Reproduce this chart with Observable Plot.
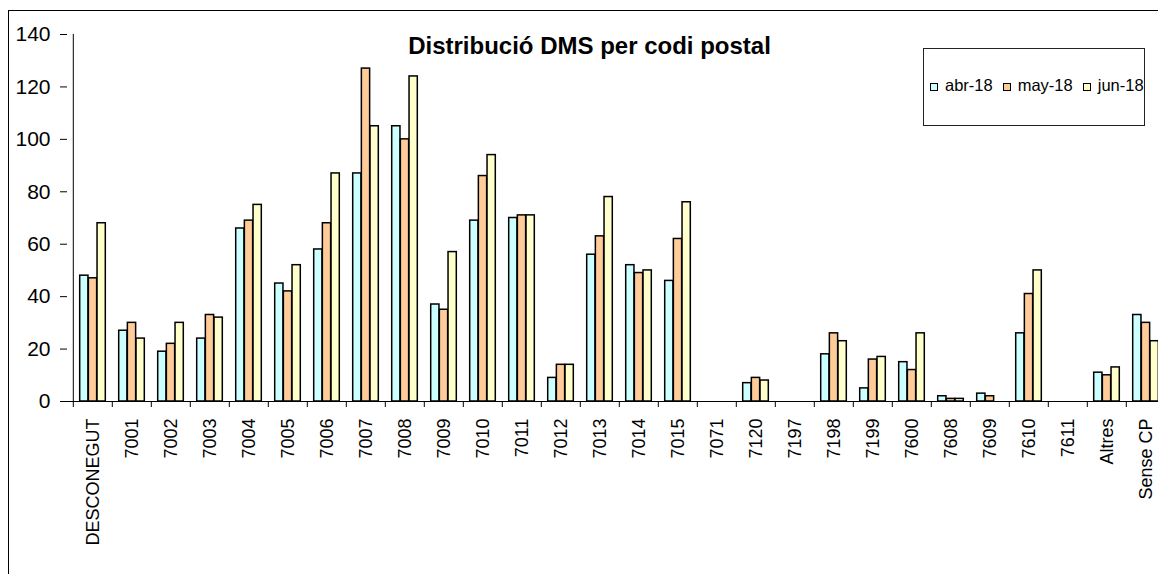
<!DOCTYPE html>
<html>
<head>
<meta charset="utf-8">
<script src="https://cdn.jsdelivr.net/npm/d3@7"></script>
<script src="https://cdn.jsdelivr.net/npm/@observablehq/plot@0.6"></script>
<style>
  html, body { margin: 0; padding: 0; overflow: hidden; background: #fff; }
  #wrap { position: relative; width: 1158px; height: 574px; overflow: hidden;
          font-family: "Liberation Sans", Arial, sans-serif; color: #000; }
  #frame { position: absolute; left: 8px; top: 10px; width: 1400px; height: 800px;
           border: 1px solid #000; box-sizing: border-box; }
  #chart { position: absolute; left: 0; top: 0; width: 1180px; }
  #chart svg { max-width: none !important; }
  #title { position: absolute; left: 0; width: 1179px; top: 34px; text-align: center;
           font-weight: bold; font-size: 24px; line-height: 24px; white-space: nowrap; }
  #legend { position: absolute; left: 923px; top: 48px; width: 222px; height: 78px;
            border: 1px solid #222; box-sizing: border-box; background: #fff; }
  #legend .row { position: absolute; left: 6px; top: 28px; font-size: 16.5px; line-height: 16.5px; white-space: nowrap; }
  #legend .sw { display: inline-block; width: 6px; height: 6px; border: 1.5px solid #000;
                vertical-align: baseline; margin-right: 7px; }
  #legend .lab { margin-right: 10px; }
</style>
</head>
<body>
<div id="wrap">
  <div id="frame"></div>
  <div id="chart"></div>
  <div id="title">Distribució DMS per codi postal</div>
  <div id="legend"><div class="row"></div></div>
</div>
<script>
const categories = ["DESCONEGUT","7001","7002","7003","7004","7005","7006","7007","7008","7009",
  "7010","7011","7012","7013","7014","7015","7071","7120","7197","7198","7199","7600","7608",
  "7609","7610","7611","Altres","Sense CP"];
const abr18 = [48,27,19,24,66,45,58,87,105,37,69,70,9,56,52,46,0,7,0,18,5,15,2,3,26,0,11,33];
const may18 = [47,30,22,33,69,42,68,127,100,35,86,71,14,63,49,62,0,9,0,26,16,12,1,2,41,0,10,30];
const jun18 = [68,24,30,32,75,52,87,105,124,57,94,71,14,78,50,76,0,8,0,23,17,26,1,0,50,0,13,23];
const seriesNames = ["abr-18","may-18","jun-18"];
const seriesColors = ["#CCFFFF","#FFCC99","#FFFFCC"];
const yTicks = [0,20,40,60,80,100,120,140];

const seriesValues = [abr18, may18, jun18];
const rows = seriesNames.flatMap((s, k) =>
  categories.map((c, i) => ({cat: c, series: s, value: seriesValues[k][i]})));

const W = 1180, H = 574, ML = 67, MT = 34, MB = H - 401;
const step = 39.4;
const MR = W - ML - categories.length * step;
const groupPad = 6.7;
const barW = (step - 2 * groupPad) / 3;

const bars = seriesNames.map((s, k) => Plot.barY(rows, {
  filter: d => d.series === s && d.value > 0,
  x: "cat", y: "value", fill: "series",
  stroke: "#000", strokeWidth: 1.5,
  insetLeft: groupPad + k * barW,
  insetRight: step - groupPad - (k + 1) * barW
}));

const plot = Plot.plot({
  width: W, height: H,
  marginLeft: ML, marginRight: MR, marginTop: MT, marginBottom: MB,
  style: {fontFamily: '"Liberation Sans", Arial, sans-serif', color: "#000", background: "transparent", maxWidth: "none"},
  x: {domain: categories, padding: 0, label: null},
  y: {domain: [0, 140], label: null},
  color: {domain: seriesNames, range: seriesColors},
  marks: [
    ...bars,
    Plot.ruleY([0], {stroke: "#000"}),
    Plot.ruleX([categories[0]], {y1: 0, y2: 140, dx: -step / 2, stroke: "#000"}),
    Plot.axisX({tickSize: 6, tickFormat: () => "", dx: -step / 2, label: null, stroke: "#000"}),
    Plot.axisX({tickSize: 0, tickRotate: -90, tickPadding: 17, fontSize: 18, label: null, fill: "#000"}),
    Plot.axisY({ticks: yTicks, tickSize: 7, tickPadding: 10, fontSize: 21, label: null, fill: "#000", stroke: "#000"})
  ]
});
document.getElementById("chart").appendChild(plot);

const row = d3.select("#legend .row");
seriesNames.forEach((s, k) => {
  row.append("span").attr("class", "sw").style("background", seriesColors[k]);
  row.append("span").attr("class", "lab").text(s);
});
</script>
</body>
</html>
